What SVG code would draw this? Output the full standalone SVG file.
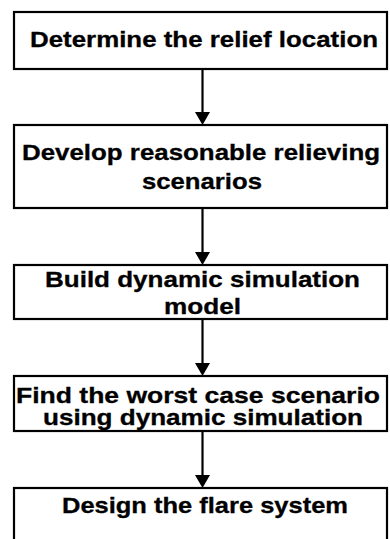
<svg xmlns="http://www.w3.org/2000/svg" width="390" height="539" viewBox="0 0 390 539">
<style>
.box{fill:#fff;stroke:#000;stroke-width:2.2}
.t{font-family:"Liberation Sans",Arial,sans-serif;font-weight:bold;font-size:22px;fill:#000;stroke:#000;stroke-width:0.3;text-anchor:middle}
.c{stroke:#000;stroke-width:2.2;fill:none}
.h{fill:#000;stroke:none}
</style>
<rect width="390" height="539" fill="#fff"/>
<g id="connectors">
<line class="c" x1="202.5" y1="69" x2="202.5" y2="114"/>
<polygon class="h" points="195,112 210,112 202.5,125"/>
<line class="c" x1="202.5" y1="208" x2="202.5" y2="254"/>
<polygon class="h" points="195,252 210,252 202.5,265"/>
<line class="c" x1="202.5" y1="319" x2="202.5" y2="365"/>
<polygon class="h" points="195,363 210,363 202.5,376"/>
<line class="c" x1="202.5" y1="431" x2="202.5" y2="477"/>
<polygon class="h" points="195,475 210,475 202.5,488"/>
</g>
<g id="n1">
<rect class="box" x="14" y="12" width="373" height="57"/>
<text class="t" x="204" y="47" textLength="348" lengthAdjust="spacingAndGlyphs">Determine the relief location</text>
</g>
<g id="n2">
<rect class="box" x="14" y="125" width="373" height="83"/>
<text class="t" x="201" y="160" textLength="358" lengthAdjust="spacingAndGlyphs">Develop reasonable relieving</text>
<text class="t" x="202" y="189" textLength="120" lengthAdjust="spacingAndGlyphs">scenarios</text>
</g>
<g id="n3">
<rect class="box" x="14" y="265" width="373" height="54"/>
<text class="t" x="202.5" y="287" textLength="315" lengthAdjust="spacingAndGlyphs">Build dynamic simulation</text>
<text class="t" x="202.5" y="314" textLength="77" lengthAdjust="spacingAndGlyphs">model</text>
</g>
<g id="n4">
<rect class="box" x="14" y="376" width="373" height="55"/>
<text class="t" x="198" y="403" textLength="364" lengthAdjust="spacingAndGlyphs">Find the worst case scenario</text>
<text class="t" x="203" y="425" textLength="320" lengthAdjust="spacingAndGlyphs">using dynamic simulation</text>
</g>
<g id="n5">
<rect class="box" x="14" y="488" width="373" height="60"/>
<text class="t" x="205" y="513" textLength="286" lengthAdjust="spacingAndGlyphs">Design the flare system</text>
</g>
</svg>
